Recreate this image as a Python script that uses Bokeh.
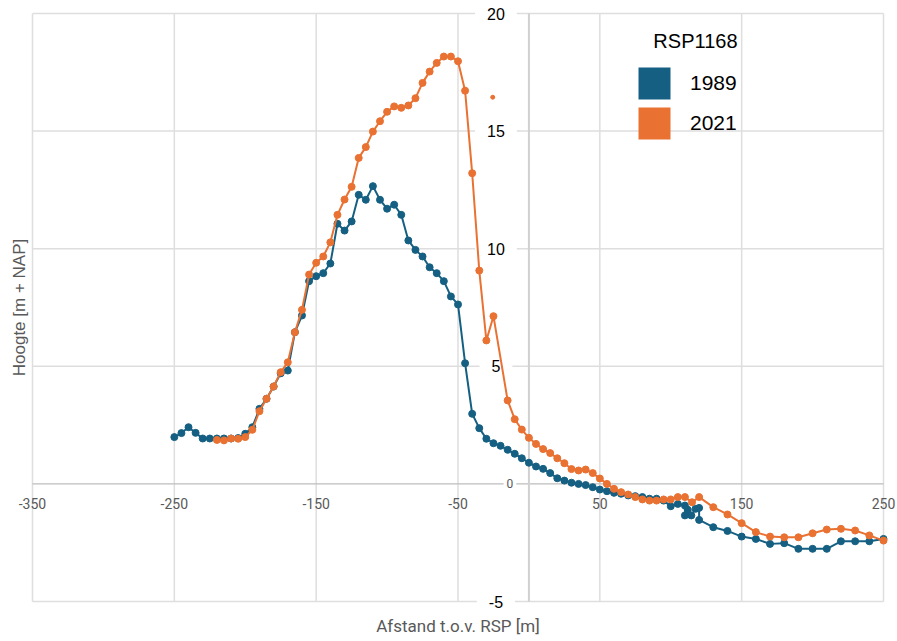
import math
from bokeh.plotting import figure
from bokeh.models import (Range1d, Label, LabelSet, ColumnDataSource, Legend, LegendItem)
from bokeh.core.properties import value
from bokeh.embed import file_html
from bokeh.resources import INLINE

BLUE = "#156082"
ORANGE = "#E97132"
GRAY = "#595959"

# ---- data ----
x_1989 = [-250, -245, -240, -235, -230, -225, -220, -215, -210, -205, -200, -195, -190, -185,
          -180, -175, -170, -165, -160, -155, -150, -145, -140, -135, -130, -125, -120, -115,
          -110, -105, -100, -95, -90, -85, -80, -75, -70, -65, -60, -55, -50, -45, -40, -35,
          -30, -25, -20, -15, -10, -5, 0, 5, 10, 15, 20, 25, 30, 35, 40, 45, 50, 55, 60, 65,
          70, 75, 80, 85, 90, 95, 100, 105, 110, 110, 112, 114.5, 117.5, 120, 120, 130, 140,
          150, 160, 170, 180, 190, 200, 210, 220, 230, 240, 250]
y_1989 = [1.99, 2.16, 2.41, 2.17, 1.93, 1.93, 1.93, 1.93, 1.93, 1.95, 2.13, 2.41, 3.19, 3.62,
          4.14, 4.70, 4.82, 6.45, 7.16, 8.62, 8.83, 8.96, 9.37, 11.06, 10.77, 11.16, 12.29, 12.08,
          12.66, 12.08, 11.70, 11.87, 11.44, 10.35, 9.95, 9.67, 9.21, 8.96, 8.62, 7.97, 7.63,
          5.13, 2.98, 2.37, 1.92, 1.73, 1.62, 1.45, 1.28, 1.09, 0.90, 0.74, 0.64, 0.46, 0.24,
          0.14, 0.05, 0.0, -0.05, -0.14, -0.24, -0.31, -0.38, -0.42, -0.49, -0.52, -0.56, -0.63,
          -0.63, -0.71, -0.95, -0.85, -0.92, -1.34, -1.10, -1.34, -1.06, -1.02, -1.53, -1.84,
          -2.00, -2.24, -2.34, -2.55, -2.52, -2.76, -2.76, -2.76, -2.44, -2.44, -2.44, -2.34]

x_2021 = [-220, -215, -210, -205, -200, -195, -190, -185, -180, -175, -170, -165, -160, -155,
          -150, -145, -140, -135, -130, -125, -120, -115, -110, -105, -100, -95, -90, -85, -80,
          -75, -70, -65, -60, -55, -50, -45, -40, -35, -30, -25, -15, -10, -5, 0, 5, 10, 15,
          20, 25, 30, 35, 40, 45, 50, 55, 60, 65, 70, 75, 80, 85, 90, 95, 100, 105, 110, 115,
          120, 130, 140, 150, 160, 170, 180, 190, 200, 210, 220, 230, 240, 250]
y_2021 = [1.87, 1.85, 1.93, 1.92, 1.99, 2.30, 3.09, 3.62, 4.14, 4.75, 5.17, 6.45, 7.40, 8.90,
          9.40, 9.67, 10.27, 11.44, 12.09, 12.63, 13.86, 14.32, 14.98, 15.42, 15.82, 16.05,
          15.99, 16.09, 16.40, 17.05, 17.53, 17.90, 18.17, 18.17, 17.97, 16.72, 13.21, 9.07,
          6.10, 7.13, 3.55, 2.75, 2.31, 1.96, 1.70, 1.48, 1.31, 1.09, 0.88, 0.63, 0.57, 0.61,
          0.46, 0.23, 0.0, -0.21, -0.35, -0.45, -0.56, -0.66, -0.71, -0.71, -0.66, -0.66, -0.56,
          -0.56, -0.78, -0.56, -0.99, -1.30, -1.67, -2.05, -2.24, -2.27, -2.27, -2.10, -1.94,
          -1.91, -1.98, -2.19, -2.41]

x_2021_extra = [-25.5]
y_2021_extra = [16.44]

x_ticks = [-350, -250, -150, -50, 50, 150, 250]
y_ticks = [-5, 5, 10, 15, 20]
series_names = ["1989", "2021"]
legend_title = "RSP1168"
x_title = "Afstand t.o.v. RSP [m]"
y_title = "Hoogte [m + NAP]"

# ---- layout: the frame covers the whole canvas; the plot area is -350..250 x -5..20 ----
W, H = 897, 641
PL, PR, PT, PB = 32, 883, 13, 601          # plot-area edges in pixels
x_lo, x_hi = min(x_ticks), max(x_ticks)
y_lo, y_hi = min(y_ticks), max(y_ticks)
sx = (PR - PL) / (x_hi - x_lo)
sy = (PB - PT) / (y_hi - y_lo)
x_range = Range1d(x_lo - PL / sx, x_hi + (W - PR) / sx)
y_range = Range1d(y_lo - (H - PB) / sy, y_hi + PT / sy)

p = figure(width=W, height=H, output_backend="svg", toolbar_location=None,
           x_range=x_range, y_range=y_range)
p.min_border = 0
p.min_border_left = 0
p.min_border_right = 0
p.min_border_top = 0
p.min_border_bottom = 0
p.outline_line_color = None
p.xaxis.visible = False
p.yaxis.visible = False
p.grid.visible = False
p.background_fill_color = "white"
p.border_fill_color = "white"

# grid lines limited to the plot area
nx, ny = len(x_ticks), len(y_ticks)
p.segment(x0=x_ticks, y0=[y_lo] * nx, x1=x_ticks, y1=[y_hi] * nx,
          line_color="#dedede", line_width=1.5, level="image")
p.segment(x0=[x_lo] * ny, y0=y_ticks, x1=[x_hi] * ny, y1=y_ticks,
          line_color="#dedede", line_width=1.5, level="image")
# axis lines crossing at the origin
p.segment(x0=[x_lo], y0=[0], x1=[x_hi], y1=[0], line_color="#bdbdbd", line_width=1.3, level="image")
p.segment(x0=[0], y0=[y_lo], x1=[0], y1=[y_hi], line_color="#d0d0d0", line_width=2, level="image")

# x tick labels (below the zero line)
xs = ColumnDataSource(dict(x=x_ticks, y=[0] * nx, t=[str(v) for v in x_ticks]))
p.add_layout(LabelSet(x="x", y="y", text="t", source=xs, y_offset=-20,
                      text_align="center", text_baseline="middle",
                      text_font=value("Roboto"), text_font_size="14px",
                      text_color=GRAY))

# y tick labels (on the vertical axis, white boxes)
for v in y_ticks:
    p.add_layout(Label(x=0, y=v, text=str(v), x_offset=-33,
                       text_align="center", text_baseline="middle",
                       text_font="Liberation Sans", text_font_size="16px",
                       text_color="black", background_fill_color="white", padding=12,
                       level="underlay"))
p.add_layout(Label(x=0, y=0, text="0", x_offset=-19,
                   text_align="center", text_baseline="middle",
                   text_font="Roboto", text_font_size="12px",
                   text_color=GRAY, background_fill_color="white", padding=3,
                   level="underlay"))

# series
p.line(x_1989, y_1989, line_color=BLUE, line_width=2)
p.scatter(x_1989, y_1989, size=7, fill_color=BLUE, line_color=BLUE)
p.line(x_2021, y_2021, line_color=ORANGE, line_width=2)
p.scatter(x_2021, y_2021, size=7, fill_color=ORANGE, line_color=ORANGE)
p.scatter(x_2021_extra, y_2021_extra, size=4, fill_color=ORANGE, line_color=ORANGE)

# legend with square swatches (dummy renderers, nothing drawn in the plot)
nan = [float("nan")]
r_b = p.quad(left=nan, right=nan, top=nan, bottom=nan, fill_color=BLUE, line_color=None)
r_o = p.quad(left=nan, right=nan, top=nan, bottom=nan, fill_color=ORANGE, line_color=None)
legend = Legend(items=[LegendItem(label=series_names[0], renderers=[r_b]),
                       LegendItem(label=series_names[1], renderers=[r_o])],
                location=(634, H - 143),
                glyph_width=40, glyph_height=40, label_standoff=16, spacing=0,
                padding=0, margin=0, border_line_color=None, background_fill_alpha=0,
                label_text_font_size="21px", label_text_font="Liberation Sans",
                label_text_color="black")
p.add_layout(legend)
p.add_layout(Label(x=737, y=H - 40, x_units="screen", y_units="screen", text=legend_title,
                   text_align="right", text_baseline="middle", text_font="Liberation Sans",
                   text_font_size="20px", text_color="black"))

# axis titles
p.add_layout(Label(x=(x_lo + x_hi) / 2, y=y_lo, y_offset=-24, text=x_title, text_align="center",
                   text_baseline="middle", text_font="Roboto",
                   text_font_size="17px", text_color=GRAY))
p.add_layout(Label(x=x_lo, y=(y_lo + y_hi) / 2, x_offset=-13, text=y_title, angle=math.pi / 2,
                   text_align="center", text_baseline="middle",
                   text_font="Liberation Sans", text_font_size="17px",
                   text_color=GRAY))

open("out.html", "w").write(file_html(p, INLINE))
